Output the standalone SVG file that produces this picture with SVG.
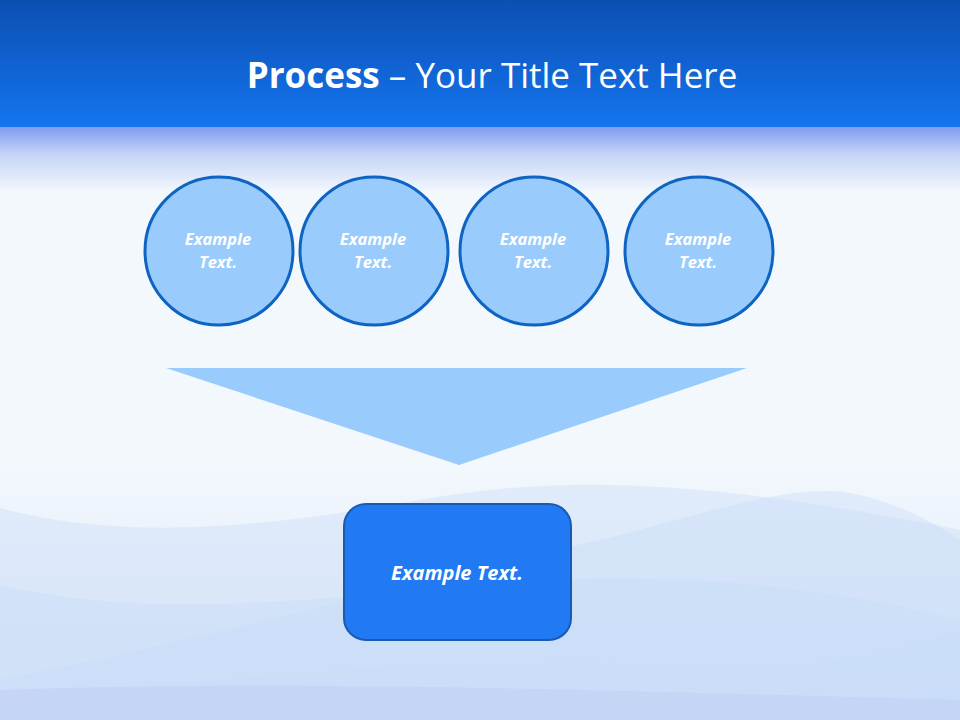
<svg xmlns="http://www.w3.org/2000/svg" width="960" height="720" viewBox="0 0 960 720">
<defs>
<linearGradient id="hdr" x1="0" y1="0" x2="0" y2="1">
<stop offset="0" stop-color="#0c4fb2"/>
<stop offset="1" stop-color="#1475ef"/>
</linearGradient>
<linearGradient id="fade" x1="0" y1="0" x2="0" y2="1">
<stop offset="0" stop-color="#7f9cf0"/>
<stop offset="0.4" stop-color="#c3d2f6"/>
<stop offset="1" stop-color="#f3f8fd"/>
</linearGradient>
<linearGradient id="bot" x1="0" y1="0" x2="0" y2="1">
<stop offset="0" stop-color="#f3f8fd"/>
<stop offset="1" stop-color="#dbe6f8"/>
</linearGradient>
<style>
.c{fill:#99cbfd;stroke:#0d64c2;stroke-width:3}
.ct{font-family:"Open Sans","Noto Sans",sans-serif;font-weight:bold;font-style:italic;font-size:16.5px;fill:#ffffff;text-anchor:middle}
.w{fill:#c9dcf7;opacity:0.4}
</style>
</defs>
<rect width="960" height="720" fill="#f3f8fd"/>
<rect y="460" width="960" height="260" fill="url(#bot)"/>
<g id="waves">
<path class="w" d="M0,508 C120,540 250,530 420,500 C560,475 700,478 960,530 L960,720 L0,720 Z"/>
<path class="w" d="M0,585 C150,620 300,600 480,585 C640,570 800,580 960,620 L960,720 L0,720 Z"/>
<path class="w" d="M0,680 C200,640 420,580 600,540 C720,510 800,480 860,495 C900,505 930,520 960,540 L960,720 L0,720 Z"/>
<path class="w" d="M0,705 C250,670 500,655 700,665 C820,672 900,650 960,630 L960,720 L0,720 Z"/>
<path fill="#b9c6f2" opacity="0.35" d="M0,690 C300,680 600,690 960,700 L960,720 L0,720 Z"/>
</g>
<rect width="960" height="127" fill="url(#hdr)"/>
<rect y="127" width="960" height="65" fill="url(#fade)"/>
<g id="title">
<text x="492" y="88" text-anchor="middle" font-family="Open Sans,Noto Sans,sans-serif" font-size="35" fill="#ffffff"><tspan font-weight="bold">Process</tspan> – Your Title Text Here</text>
</g>
<g id="node1"><circle class="c" cx="219" cy="251" r="74"/><text class="ct" x="218" y="245">Example</text><text class="ct" x="218" y="268">Text.</text></g>
<g id="node2"><circle class="c" cx="374" cy="251" r="74"/><text class="ct" x="373" y="245">Example</text><text class="ct" x="373" y="268">Text.</text></g>
<g id="node3"><circle class="c" cx="534" cy="251" r="74"/><text class="ct" x="533" y="245">Example</text><text class="ct" x="533" y="268">Text.</text></g>
<g id="node4"><circle class="c" cx="699" cy="251" r="74"/><text class="ct" x="698" y="245">Example</text><text class="ct" x="698" y="268">Text.</text></g>
<g id="connectors">
<polygon points="166,368 747,368 459,465" fill="#99cbfd"/>
</g>
<g id="node5">
<rect x="344" y="504" width="227" height="136" rx="22" fill="#2179f3" stroke="#1a5bb0" stroke-width="2"/>
<text class="ct" x="457" y="580" style="font-size:20px">Example Text.</text>
</g>
</svg>
